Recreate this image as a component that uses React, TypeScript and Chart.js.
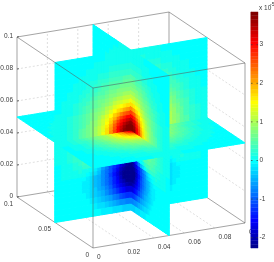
import React, { useEffect, useRef } from "react";
import { Chart, registerables } from "chart.js";

Chart.register(...registerables);

// ---- data (values are in units of 1e-5) ----
const xTicks = [0, 0.02, 0.04, 0.06, 0.08, 0.1];
const yTicks = [0, 0.05, 0.1];
const zTicks = [0, 0.02, 0.04, 0.06, 0.08, 0.1];
const colorbarTicks = [3, 2, 1, 0, -1, -2];
const colorMin = -2.27;
const colorMax = 3.85;
// cell borders, as a fraction of the half-width, measured out from the centre of the box
const cellBreaks = [0, 0.04, 0.08, 0.12, 0.16, 0.2, 0.25, 0.3, 0.35, 0.4, 0.45, 0.5, 0.55, 0.6, 0.65, 0.7, 0.775, 0.85, 0.925, 1];

const upperValues = [
  [3.85, 3.85, 3.7, 3.4, 3.05, 2.65, 2.15, 1.7, 1.37, 1.13, 0.94, 0.78, 0.66, 0.54, 0.43, 0.31, 0.2, 0.11, 0.05],
  [3.85, 3.8, 3.58, 3.28, 3.0, 2.58, 2.1, 1.67, 1.35, 1.12, 0.93, 0.78, 0.65, 0.53, 0.42, 0.31, 0.2, 0.11, 0.05],
  [3.7, 3.58, 3.4, 3.13, 2.85, 2.44, 1.97, 1.6, 1.3, 1.09, 0.91, 0.76, 0.64, 0.52, 0.42, 0.3, 0.19, 0.11, 0.05],
  [3.4, 3.3, 3.13, 2.92, 2.62, 2.25, 1.83, 1.48, 1.25, 1.04, 0.87, 0.74, 0.62, 0.5, 0.4, 0.29, 0.18, 0.1, 0.04],
  [3.05, 3.0, 2.85, 2.62, 2.35, 2.0, 1.68, 1.38, 1.18, 0.99, 0.83, 0.71, 0.59, 0.48, 0.38, 0.28, 0.17, 0.09, 0.04],
  [2.65, 2.58, 2.44, 2.25, 2.0, 1.76, 1.47, 1.27, 1.08, 0.91, 0.78, 0.67, 0.56, 0.45, 0.36, 0.26, 0.16, 0.08, 0.03],
  [2.15, 2.1, 1.97, 1.83, 1.68, 1.47, 1.3, 1.13, 0.98, 0.83, 0.72, 0.61, 0.51, 0.42, 0.33, 0.24, 0.14, 0.07, 0.03],
  [1.7, 1.67, 1.6, 1.48, 1.38, 1.27, 1.13, 1.0, 0.86, 0.76, 0.66, 0.56, 0.46, 0.37, 0.29, 0.21, 0.12, 0.06, 0.03],
  [1.37, 1.35, 1.3, 1.25, 1.18, 1.08, 0.98, 0.86, 0.77, 0.68, 0.59, 0.49, 0.41, 0.33, 0.26, 0.18, 0.1, 0.05, 0.02],
  [1.13, 1.12, 1.09, 1.04, 0.99, 0.91, 0.83, 0.76, 0.68, 0.6, 0.51, 0.43, 0.35, 0.28, 0.22, 0.15, 0.08, 0.04, 0.01],
  [0.94, 0.93, 0.91, 0.87, 0.83, 0.78, 0.72, 0.66, 0.59, 0.51, 0.43, 0.36, 0.3, 0.24, 0.18, 0.12, 0.07, 0.03, 0.01],
  [0.78, 0.78, 0.76, 0.74, 0.71, 0.67, 0.61, 0.56, 0.49, 0.43, 0.36, 0.3, 0.25, 0.19, 0.15, 0.09, 0.05, 0.02, 0.01],
  [0.66, 0.65, 0.64, 0.62, 0.59, 0.56, 0.51, 0.46, 0.41, 0.35, 0.3, 0.25, 0.2, 0.15, 0.11, 0.07, 0.03, 0.01, 0],
  [0.54, 0.53, 0.52, 0.5, 0.48, 0.45, 0.42, 0.37, 0.33, 0.28, 0.24, 0.19, 0.15, 0.11, 0.08, 0.05, 0.02, 0.01, 0],
  [0.43, 0.42, 0.42, 0.4, 0.38, 0.36, 0.33, 0.29, 0.26, 0.22, 0.18, 0.15, 0.11, 0.08, 0.05, 0.03, 0.01, 0, 0],
  [0.31, 0.31, 0.3, 0.29, 0.28, 0.26, 0.24, 0.21, 0.18, 0.15, 0.12, 0.09, 0.07, 0.05, 0.03, 0.02, 0.01, 0, 0],
  [0.2, 0.2, 0.19, 0.18, 0.17, 0.16, 0.14, 0.12, 0.1, 0.08, 0.07, 0.05, 0.03, 0.02, 0.01, 0.01, 0, 0, 0],
  [0.11, 0.11, 0.11, 0.1, 0.09, 0.08, 0.07, 0.06, 0.05, 0.04, 0.03, 0.02, 0.01, 0.01, 0, 0, 0, 0, 0],
  [0.05, 0.05, 0.05, 0.04, 0.04, 0.03, 0.03, 0.03, 0.02, 0.01, 0.01, 0.01, 0, 0, 0, 0, 0, 0, 0],
];

const lowerValues = [
  [3.0, 2.9, 2.8, 2.6, 2.4, 2.1, 1.8, 1.5, 1.25, 1.05, 0.9, 0.78, 0.66, 0.55, 0.45, 0.32, 0.2, 0.1, 0.04],
  [2.4, 2.35, 2.25, 2.1, 1.95, 1.8, 1.6, 1.35, 1.15, 1.0, 0.88, 0.77, 0.65, 0.54, 0.44, 0.32, 0.2, 0.1, 0.04],
  [1.9, 1.85, 1.8, 1.7, 1.6, 1.5, 1.35, 1.2, 1.05, 0.93, 0.83, 0.73, 0.63, 0.52, 0.43, 0.31, 0.19, 0.1, 0.04],
  [1.4, 1.4, 1.35, 1.3, 1.25, 1.2, 1.1, 1.0, 0.92, 0.84, 0.75, 0.68, 0.59, 0.5, 0.41, 0.3, 0.18, 0.09, 0.04],
  [1.0, 1.0, 1.0, 0.98, 0.95, 0.92, 0.88, 0.85, 0.8, 0.74, 0.68, 0.61, 0.54, 0.46, 0.38, 0.28, 0.17, 0.09, 0.03],
  [0.5, 0.5, 0.5, 0.52, 0.55, 0.58, 0.62, 0.65, 0.65, 0.63, 0.6, 0.55, 0.49, 0.42, 0.35, 0.26, 0.16, 0.08, 0.03],
  [0, 0, 0.05, 0.1, 0.15, 0.22, 0.3, 0.38, 0.45, 0.5, 0.52, 0.49, 0.44, 0.37, 0.31, 0.23, 0.14, 0.07, 0.03],
  [-0.45, -0.42, -0.38, -0.3, -0.2, -0.1, 0, 0.12, 0.25, 0.34, 0.4, 0.41, 0.37, 0.32, 0.26, 0.19, 0.12, 0.06, 0.02],
  [-2.0, -1.9, -1.7, -1.42, -1.1, -0.78, -0.45, -0.2, 0, 0.14, 0.23, 0.29, 0.28, 0.24, 0.2, 0.15, 0.09, 0.05, 0.02],
  [-2.2, -2.12, -1.98, -1.76, -1.5, -1.28, -1.04, -0.79, -0.55, -0.35, -0.16, -0.02, 0.07, 0.11, 0.13, 0.11, 0.09, 0.05, 0.02],
  [-2.27, -2.25, -2.15, -1.93, -1.65, -1.38, -1.1, -0.88, -0.69, -0.41, -0.26, -0.1, -0.02, 0.04, 0.06, 0.05, 0.05, 0.03, 0.01],
  [-2.27, -2.27, -2.2, -2.0, -1.72, -1.42, -1.14, -0.9, -0.7, -0.52, -0.36, -0.21, -0.11, -0.03, 0, 0.02, 0.02, 0.01, 0],
  [-2.27, -2.27, -2.18, -1.97, -1.69, -1.4, -1.11, -0.89, -0.69, -0.52, -0.39, -0.25, -0.16, -0.09, -0.05, -0.02, 0, 0, 0],
  [-2.25, -2.2, -2.05, -1.85, -1.6, -1.33, -1.07, -0.86, -0.66, -0.5, -0.36, -0.24, -0.15, -0.09, -0.05, -0.02, 0, 0, 0],
  [-2.08, -2.02, -1.88, -1.68, -1.45, -1.22, -0.99, -0.8, -0.61, -0.47, -0.34, -0.22, -0.13, -0.08, -0.05, -0.02, 0, 0, 0],
  [-1.75, -1.7, -1.58, -1.42, -1.24, -1.05, -0.87, -0.69, -0.54, -0.41, -0.3, -0.19, -0.12, -0.07, -0.04, -0.02, 0, 0, 0],
  [-1.3, -1.26, -1.18, -1.06, -0.93, -0.79, -0.64, -0.5, -0.38, -0.27, -0.19, -0.11, -0.07, -0.03, -0.02, -0.01, 0, 0, 0],
  [-0.8, -0.77, -0.72, -0.65, -0.58, -0.5, -0.41, -0.33, -0.25, -0.18, -0.12, -0.07, -0.04, -0.02, -0.01, 0, 0, 0, 0],
  [-0.3, -0.29, -0.27, -0.25, -0.22, -0.19, -0.15, -0.12, -0.09, -0.06, -0.04, -0.02, -0.01, 0, 0, 0, 0, 0, 0],
];

const middleValues = [
  [3.4, 3.2, 2.8, 2.4, 2.05, 1.7, 1.47, 1.22, 1.05, 0.88, 0.76, 0.64, 0.53, 0.43, 0.34, 0.25, 0.15, 0.08, 0.03],
  [3.2, 3.0, 2.65, 2.28, 1.97, 1.68, 1.44, 1.2, 1.02, 0.87, 0.75, 0.64, 0.52, 0.42, 0.33, 0.25, 0.15, 0.08, 0.03],
  [2.8, 2.65, 2.4, 2.12, 1.86, 1.62, 1.38, 1.15, 0.98, 0.85, 0.74, 0.63, 0.51, 0.41, 0.33, 0.24, 0.14, 0.07, 0.03],
  [2.4, 2.28, 2.12, 1.91, 1.71, 1.52, 1.3, 1.09, 0.95, 0.83, 0.72, 0.61, 0.49, 0.4, 0.31, 0.23, 0.14, 0.07, 0.03],
  [2.05, 1.97, 1.86, 1.71, 1.56, 1.38, 1.2, 1.05, 0.91, 0.79, 0.68, 0.58, 0.47, 0.38, 0.3, 0.22, 0.13, 0.06, 0.03],
  [1.7, 1.68, 1.62, 1.52, 1.38, 1.25, 1.1, 0.97, 0.85, 0.75, 0.64, 0.53, 0.44, 0.36, 0.28, 0.2, 0.11, 0.05, 0.02],
  [1.47, 1.44, 1.38, 1.3, 1.2, 1.1, 0.98, 0.89, 0.8, 0.69, 0.59, 0.49, 0.41, 0.33, 0.26, 0.18, 0.1, 0.05, 0.02],
  [1.22, 1.2, 1.15, 1.09, 1.05, 0.97, 0.89, 0.82, 0.74, 0.62, 0.53, 0.44, 0.36, 0.3, 0.23, 0.16, 0.09, 0.04, 0.01],
  [1.05, 1.02, 0.98, 0.95, 0.91, 0.85, 0.8, 0.74, 0.67, 0.55, 0.47, 0.39, 0.32, 0.26, 0.2, 0.13, 0.07, 0.03, 0.01],
  [0.88, 0.87, 0.85, 0.83, 0.79, 0.75, 0.69, 0.62, 0.55, 0.47, 0.41, 0.34, 0.28, 0.21, 0.17, 0.11, 0.05, 0.02, 0.01],
  [0.76, 0.75, 0.74, 0.72, 0.68, 0.64, 0.59, 0.53, 0.47, 0.41, 0.34, 0.29, 0.23, 0.18, 0.14, 0.09, 0.04, 0.02, 0.01],
  [0.64, 0.64, 0.63, 0.61, 0.58, 0.53, 0.49, 0.44, 0.39, 0.34, 0.29, 0.24, 0.19, 0.15, 0.1, 0.06, 0.03, 0.01, 0],
  [0.53, 0.52, 0.51, 0.49, 0.47, 0.44, 0.41, 0.36, 0.32, 0.28, 0.23, 0.19, 0.15, 0.11, 0.08, 0.04, 0.02, 0.01, 0],
  [0.43, 0.42, 0.41, 0.4, 0.38, 0.36, 0.33, 0.3, 0.26, 0.21, 0.18, 0.15, 0.11, 0.08, 0.05, 0.03, 0.01, 0, 0],
  [0.34, 0.33, 0.33, 0.31, 0.3, 0.28, 0.26, 0.23, 0.2, 0.17, 0.14, 0.1, 0.08, 0.05, 0.03, 0.02, 0.01, 0, 0],
  [0.25, 0.25, 0.24, 0.23, 0.22, 0.2, 0.18, 0.16, 0.13, 0.11, 0.09, 0.06, 0.04, 0.03, 0.02, 0.01, 0, 0, 0],
  [0.15, 0.15, 0.14, 0.14, 0.13, 0.11, 0.1, 0.09, 0.07, 0.05, 0.04, 0.03, 0.02, 0.01, 0.01, 0, 0, 0, 0],
  [0.08, 0.08, 0.07, 0.07, 0.06, 0.05, 0.05, 0.04, 0.03, 0.02, 0.02, 0.01, 0.01, 0, 0, 0, 0, 0, 0],
  [0.03, 0.03, 0.03, 0.03, 0.03, 0.02, 0.02, 0.01, 0.01, 0.01, 0.01, 0, 0, 0, 0, 0, 0, 0, 0],
];

// ---- view of the box and of the colour bar ----
const project = (x: number, y: number, z: number) => ({
  x: 93 + 1520 * x - 760 * y,
  y: 248 - 250 * x - 510 * y - 1600 * z,
});
const barLeft = 251;
const barRight = 258;
const barY = (v: number) => 160.5 - 38.6 * v;

// the 64 levels of MATLAB's jet map
function jet(value: number) {
  const steps = 64;
  const raw = (value - colorMin) / (colorMax - colorMin);
  const i = Math.min(steps - 1, Math.max(0, Math.floor(raw * steps))) + 1;
  const clamp = (a: number) => Math.max(0, Math.min(1, a));
  const r = i > 56 ? 1 - (i - 56) / 16 : clamp((i - 24) / 16);
  const g = i <= 24 ? clamp((i - 8) / 16) : clamp((56 - i) / 16);
  const b = i <= 8 ? 0.5 + i / 16 : clamp((40 - i) / 16);
  return `rgb(${Math.round(255 * r)},${Math.round(255 * g)},${Math.round(255 * b)})`;
}

type Dir = [number, number, number];
// far to near, so that the nearer slices cover the farther ones;
// gain: the far right panel reads a little greener than its mirror on the left
const slices: { u: Dir; w: Dir; values: number[][]; gain: number }[] = [
  { u: [1, 0, 0], w: [0, 0, -1], values: lowerValues, gain: 1 },
  { u: [1, 0, 0], w: [0, -1, 0], values: middleValues, gain: 1 },
  { u: [-1, 0, 0], w: [0, 1, 0], values: middleValues, gain: 1 },
  { u: [0, 1, 0], w: [0, 0, 1], values: upperValues, gain: 1 },
  { u: [1, 0, 0], w: [0, 0, 1], values: upperValues, gain: 1.35 },
  { u: [-1, 0, 0], w: [0, 0, -1], values: lowerValues, gain: 1 },
  { u: [0, -1, 0], w: [0, 0, -1], values: lowerValues, gain: 1 },
  { u: [-1, 0, 0], w: [0, -1, 0], values: middleValues, gain: 1 },
  { u: [-1, 0, 0], w: [0, 0, 1], values: upperValues, gain: 1 },
  { u: [0, -1, 0], w: [0, 0, 1], values: upperValues, gain: 1 },
];

function polygonDataset(points: { x: number; y: number }[], color: string, width = 1) {
  return {
    data: [...points, points[0]],
    showLine: true,
    fill: "shape",
    backgroundColor: color,
    borderColor: color,
    borderWidth: width,
    pointRadius: 0,
    tension: 0,
    clip: false,
  };
}

function lineDataset(points: { x: number; y: number }[], color: string, dash: number[] = [], width = 1) {
  return {
    data: points,
    showLine: true,
    fill: false,
    borderColor: color,
    borderWidth: width,
    borderDash: dash,
    pointRadius: 0,
    tension: 0,
    clip: false,
  };
}

function buildDatasets() {
  const edge = "rgba(90,90,90,0.55)";
  const grid = "rgba(150,150,150,0.3)";
  const tick = "rgba(60,60,60,0.7)";
  const list: any[] = [];
  const seg = (a: number[], b: number[], c: string, d: number[] = []) =>
    list.push(lineDataset([project(a[0], a[1], a[2]), project(b[0], b[1], b[2])], c, d));

  // grid on the two back walls and on the floor
  for (const t of zTicks.slice(1, -1)) {
    seg([0, 0.1, t], [0.1, 0.1, t], grid, [2, 2]);
    seg([0.1, 0.1, t], [0.1, 0, t], grid, [2, 2]);
  }
  for (const t of xTicks.slice(1, -1)) {
    seg([t, 0.1, 0], [t, 0.1, 0.1], grid, [2, 2]);
    seg([t, 0, 0], [t, 0.1, 0], grid, [2, 2]);
  }
  for (const t of yTicks.slice(1, -1)) {
    seg([0.1, t, 0], [0.1, t, 0.1], grid, [2, 2]);
    seg([0, t, 0], [0.1, t, 0], grid, [2, 2]);
  }
  // back edges of the box
  seg([0, 0.1, 0], [0.1, 0.1, 0], edge);
  seg([0.1, 0.1, 0], [0.1, 0, 0], edge);
  seg([0.1, 0.1, 0], [0.1, 0.1, 0.1], edge);
  seg([0, 0.1, 0.1], [0.1, 0.1, 0.1], edge);
  seg([0.1, 0.1, 0.1], [0.1, 0, 0.1], edge);
  seg([0, 0.1, 0], [0, 0.1, 0.1], edge);
  seg([0.1, 0, 0], [0.1, 0, 0.1], edge);
  seg([0, 0, 0], [0, 0.1, 0], edge);
  seg([0, 0, 0], [0.1, 0, 0], edge);

  // the slices, cell by cell
  for (const s of slices) {
    const at = (a: number, b: number) =>
      project(
        0.05 + 0.05 * (a * s.u[0] + b * s.w[0]),
        0.05 + 0.05 * (a * s.u[1] + b * s.w[1]),
        0.05 + 0.05 * (a * s.u[2] + b * s.w[2])
      );
    s.values.forEach((row, j) =>
      row.forEach((v, i) => {
        const u0 = cellBreaks[i], u1 = cellBreaks[i + 1], w0 = cellBreaks[j], w1 = cellBreaks[j + 1];
        list.push(polygonDataset([at(u0, w0), at(u1, w0), at(u1, w1), at(u0, w1)], jet(v * s.gain)));
      })
    );
  }

  // near edges of the box, in front of the slices
  seg([0, 0, 0], [0, 0, 0.1], edge);
  seg([0, 0, 0.1], [0, 0.1, 0.1], edge);
  seg([0, 0, 0.1], [0.1, 0, 0.1], edge);

  // tick marks
  for (const t of zTicks) {
    const p = project(0, 0.1, t);
    list.push(lineDataset([p, { x: p.x + 2, y: p.y - 0.3 }], tick));
  }

  // colour bar
  const steps = 64;
  for (let k = 0; k < steps; k++) {
    const v0 = colorMin + ((colorMax - colorMin) * k) / steps;
    const v1 = colorMin + ((colorMax - colorMin) * (k + 1)) / steps;
    list.push(
      polygonDataset(
        [
          { x: barLeft, y: barY(v0) },
          { x: barRight, y: barY(v0) },
          { x: barRight, y: barY(v1) },
          { x: barLeft, y: barY(v1) },
        ],
        jet((v0 + v1) / 2),
        0.4
      )
    );
  }
  for (const t of colorbarTicks) {
    list.push(lineDataset([{ x: barLeft, y: barY(t) }, { x: barLeft + 1.5, y: barY(t) }], tick));
    list.push(lineDataset([{ x: barRight - 1.5, y: barY(t) }, { x: barRight, y: barY(t) }], tick));
  }
  return list.reverse(); // Chart.js paints the first dataset last
}

const tickText = {
  id: "tickText",
  beforeDatasetsDraw(chart: any) {
    const { ctx } = chart;
    ctx.save();
    ctx.fillStyle = "#3a3a3a";
    ctx.font = '6.5px "Liberation Sans"';
    ctx.textBaseline = "middle";
    ctx.textAlign = "right";
    for (const t of zTicks) {
      const p = project(0, 0.1, t);
      ctx.fillText(String(t), p.x - 4, p.y - 1);
    }
    for (const t of yTicks) {
      const p = project(0, t, 0);
      ctx.fillText(String(t), p.x - 4, p.y + 7);
    }
    ctx.textAlign = "left";
    for (const t of xTicks) {
      const p = project(t, 0, 0);
      ctx.fillText(String(t), p.x + 4, p.y + 9);
    }
    for (const t of colorbarTicks) ctx.fillText(String(t), barRight + 1.5, barY(t));
    ctx.fillText("x 10", 259, 8);
    ctx.font = '5px "Liberation Sans"';
    ctx.fillText("-5", 270, 5);
    ctx.restore();
  },
};

export default function App() {
  const ref = useRef<HTMLCanvasElement>(null);
  useEffect(() => {
    document.body.style.margin = "0";
    const chart = new Chart(ref.current as HTMLCanvasElement, {
      type: "scatter",
      data: { datasets: buildDatasets() },
      options: {
        animation: false,
        responsive: false,
        devicePixelRatio: 1,
        events: [],
        layout: { padding: 0 },
        plugins: { legend: { display: false }, tooltip: { enabled: false } },
        scales: {
          x: { type: "linear", display: false, min: 0, max: 274 },
          y: { type: "linear", display: false, min: 0, max: 262, reverse: true },
        },
      },
      plugins: [tickText],
    } as any);
    return () => chart.destroy();
  }, []);
  return <canvas ref={ref} width={274} height={262} style={{ display: "block" }} />;
}
